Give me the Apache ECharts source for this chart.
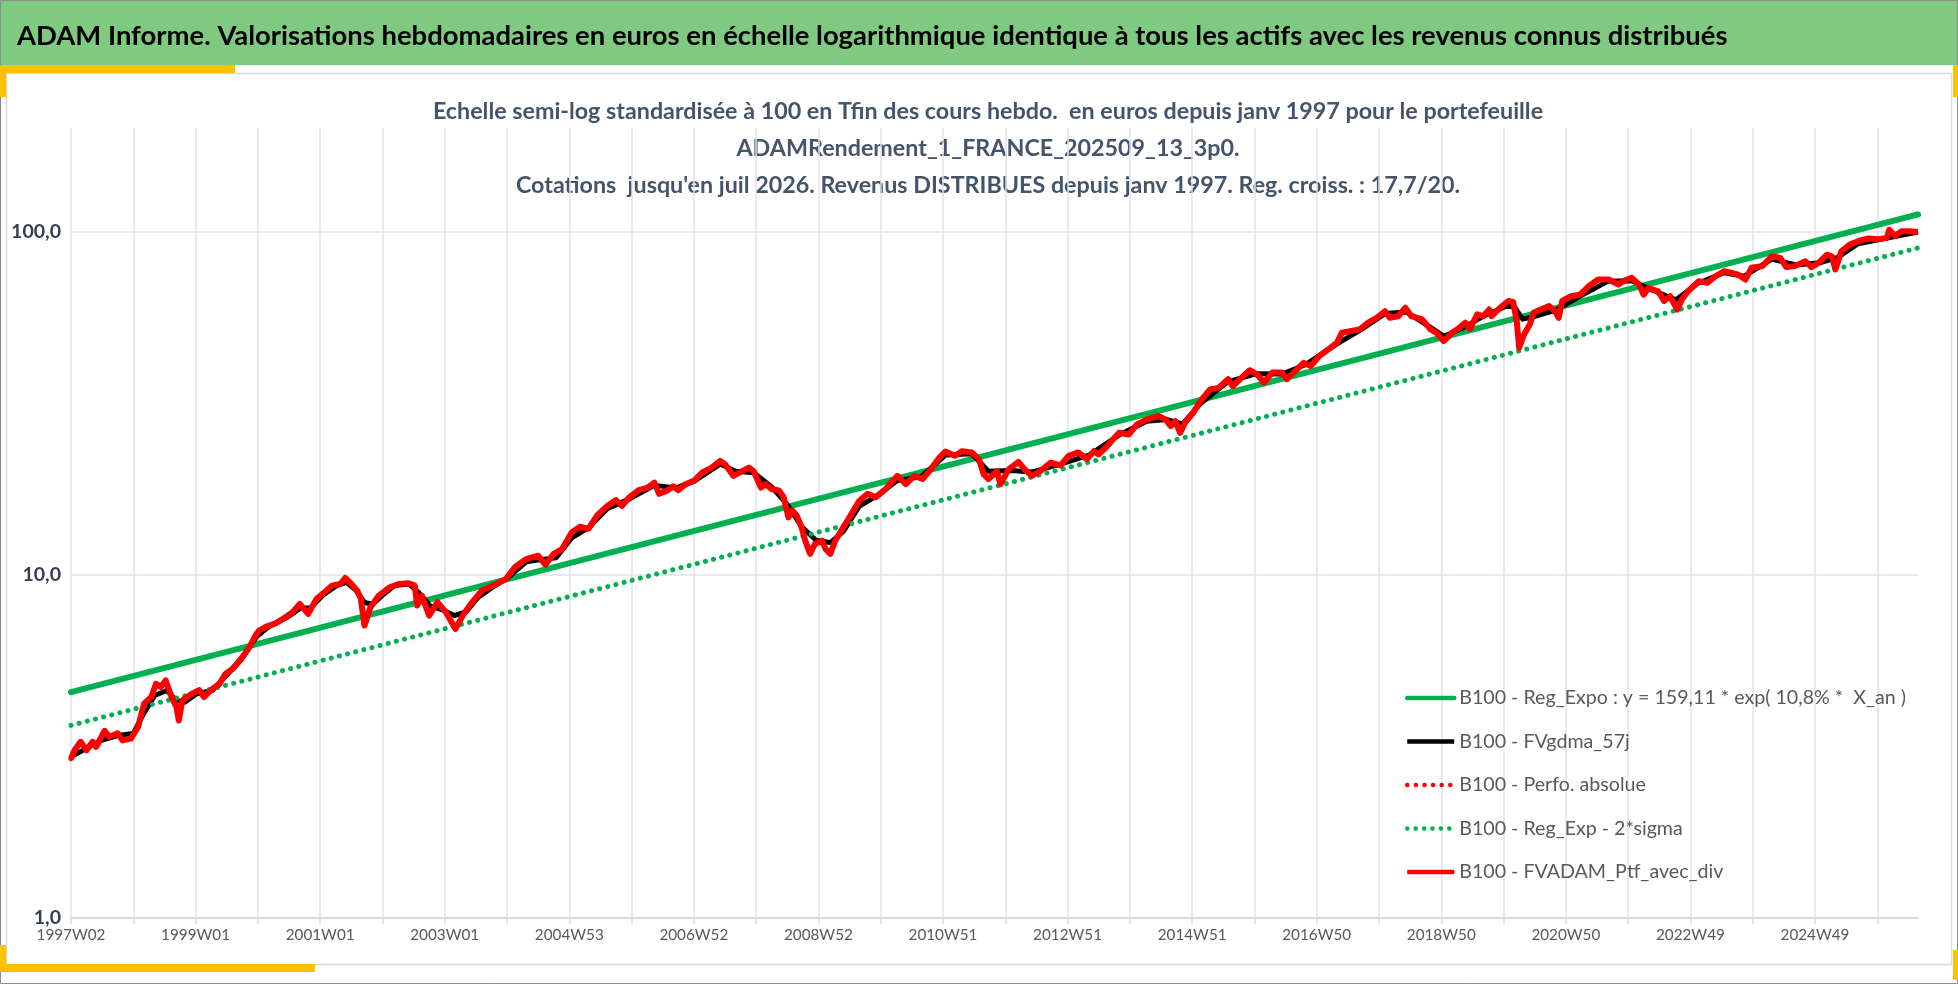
<!DOCTYPE html>
<html>
<head>
<meta charset="utf-8">
<script src="https://cdn.jsdelivr.net/npm/echarts@6/dist/echarts.min.js"></script>
<style>
  html, body { margin: 0; padding: 0; background: #fff; }
  #chart { width: 1958px; height: 984px; }
</style>
</head>
<body>
<div id="chart"></div>
<script>
// textes
const titleText = 'ADAM Informe. Valorisations hebdomadaires en euros en échelle logarithmique identique à tous les actifs avec les revenus connus distribués';
const subtitleLines = [
  'Echelle semi-log standardisée à 100 en Tfin des cours hebdo.  en euros depuis janv 1997 pour le portefeuille',
  'ADAMRendement_1_FRANCE_202509_13_3p0.',
  "Cotations  jusqu'en juil 2026. Revenus DISTRIBUES depuis janv 1997. Reg. croiss. : 17,7/20."
];
const seriesNames = [
  'B100 - Reg_Expo : y = 159,11 * exp( 10,8% *  X_an )',
  'B100 - FVgdma_57j',
  'B100 - Perfo. absolue',
  'B100 - Reg_Exp - 2*sigma',
  'B100 - FVADAM_Ptf_avec_div'
];

// axe des semaines : 1997W02 -> 2026W31
const firstMonday = Date.UTC(1997, 0, 6);
const weekCount = 1543;

// valeurs : [indice de semaine, valeur base 100]
const regExpo = [[0, 4.55], [1542, 112]];
const regExpMoins2Sigma = [[0, 3.64], [1542, 89.5]];

const ptfAvecDiv = [
  [0,2.91],[3,3.08],[8,3.26],[13,3.08],[18,3.26],[21,3.15],[28,3.51],[32,3.37],[39,3.45],[43,3.29],
  [50,3.33],[56,3.6],[61,4.21],[67,4.4],[71,4.81],[75,4.71],[79,4.92],[84,4.4],[88,4.12],[90,3.76],
  [93,4.31],[101,4.5],[107,4.61],[111,4.4],[118,4.65],[124,4.81],[129,5.14],[135,5.32],[142,5.69],[149,6.15],
  [154,6.65],[157,6.87],[163,7.06],[171,7.22],[179,7.52],[185,7.77],[191,8.22],[198,7.69],[205,8.5],[213,8.98],
  [218,9.29],[225,9.4],[229,9.78],[234,9.4],[239,8.98],[242,8.5],[245,7.11],[250,8.04],[257,8.69],[266,9.19],
  [274,9.4],[282,9.44],[287,9.29],[289,8.13],[293,8.69],[299,7.6],[306,8.32],[313,7.77],[321,6.95],[327,7.6],
  [335,8.32],[343,8.98],[352,9.29],[363,9.71],[371,10.55],[380,11.1],[390,11.36],[396,10.7],[403,11.5],[410,11.87],
  [418,13.28],[425,13.79],[432,13.6],[439,14.84],[448,15.87],[455,16.49],[460,15.87],[466,16.78],[474,17.62],[481,17.9],
  [487,18.55],[491,17.2],[498,17.6],[503,18.1],[507,17.62],[513,18.35],[520,18.77],[527,19.84],[535,20.51],[542,21.45],
  [546,20.97],[553,19.4],[560,20.0],[566,20.5],[570,20.0],[576,17.94],[580,18.35],[585,17.74],[591,17.6],[595,16.8],
  [599,14.68],[602,15.4],[606,14.84],[610,13.73],[613,12.56],[617,11.5],[621,12.28],[627,12.56],[630,11.87],[634,11.5],
  [638,12.56],[644,13.6],[649,14.51],[658,16.4],[665,17.2],[672,16.8],[680,17.74],[690,19.4],[697,18.35],[704,19.4],
  [711,19.0],[718,20.3],[725,21.93],[730,22.83],[738,22.2],[744,22.9],[752,22.7],[758,21.7],[762,19.6],[766,19.0],
  [773,20.0],[776,18.35],[783,20.3],[791,21.3],[796,20.3],[802,19.4],[809,20.0],[818,21.2],[826,20.8],[833,22.2],
  [841,22.7],[848,21.7],[854,22.9],[858,22.4],[865,23.7],[875,25.9],[883,25.6],[890,27.4],[898,28.3],[908,29.0],
  [914,28.3],[918,27.1],[922,28.0],[926,25.9],[930,27.7],[937,29.65],[943,32.05],[951,34.65],[958,35.0],[966,37.1],
  [970,35.4],[976,37.1],[984,39.4],[990,38.4],[996,36.3],[1003,38.8],[1011,38.8],[1015,37.1],[1022,39.2],[1029,41.4],
  [1035,40.5],[1042,43.3],[1050,45.4],[1057,47.4],[1061,50.65],[1068,51.2],[1076,51.8],[1083,54.2],[1090,56.0],[1097,58.5],
  [1101,56.0],[1108,56.6],[1114,59.9],[1119,56.6],[1128,55.4],[1135,51.8],[1140,50.65],[1146,47.9],[1153,50.65],[1158,52.0],
  [1164,54.2],[1168,52.0],[1174,57.3],[1179,56.6],[1184,59.2],[1186,56.6],[1193,59.9],[1200,62.7],[1204,62.3],[1207,54.8],
  [1209,45.8],[1213,50.0],[1218,53.6],[1221,57.9],[1227,59.2],[1234,60.6],[1239,58.5],[1242,56.0],[1245,62.7],[1252,64.7],
  [1260,65.4],[1267,69.2],[1275,72.4],[1284,72.4],[1292,70.0],[1296,71.6],[1303,73.2],[1309,70.0],[1313,65.4],[1317,68.4],
  [1325,66.9],[1330,62.7],[1335,64.7],[1341,59.2],[1345,63.4],[1350,66.9],[1359,71.6],[1366,70.8],[1373,74.0],[1380,76.5],
  [1387,75.6],[1392,74.8],[1398,72.4],[1403,78.3],[1412,79.2],[1420,84.6],[1427,83.7],[1432,78.7],[1439,79.2],[1448,81.8],
  [1453,78.7],[1459,80.9],[1466,85.5],[1470,84.6],[1473,77.4],[1478,87.5],[1485,91.5],[1492,93.6],[1500,95.3],[1509,94.9],
  [1516,95.7],[1518,101.1],[1523,97.0],[1528,100.0],[1535,100.0],[1542,99.6]
];
const perfoAbsolue = ptfAvecDiv;

const gdma57j = [
  [0,2.95],[13,3.12],[26,3.3],[39,3.4],[52,3.45],[60,3.9],[70,4.45],[80,4.6],[88,4.3],[95,4.25],
  [105,4.5],[118,4.6],[130,5.1],[142,5.65],[155,6.6],[165,7.05],[180,7.5],[192,8.0],[200,8.0],[210,8.7],
  [222,9.3],[230,9.5],[238,9.0],[245,8.3],[252,8.2],[260,8.7],[270,9.3],[282,9.4],[290,8.9],[300,8.1],
  [310,7.9],[320,7.6],[330,7.8],[340,8.6],[352,9.2],[365,9.8],[380,10.9],[395,11.1],[405,11.2],[418,12.8],
  [432,13.7],[448,15.6],[466,16.6],[487,18.2],[505,17.9],[520,18.7],[542,21.0],[555,20.0],[570,19.8],[585,18.0],
  [598,16.0],[610,13.8],[622,12.6],[634,12.4],[645,13.4],[658,15.8],[672,16.9],[690,18.8],[710,19.3],[730,22.3],
  [752,22.5],[766,20.0],[785,20.1],[802,19.9],[826,21.0],[850,22.3],[875,25.5],[898,28.0],[915,28.3],[928,27.5],
  [943,31.5],[966,36.5],[990,38.5],[1011,38.4],[1030,40.8],[1057,47.0],[1076,51.5],[1097,57.6],[1115,58.2],[1135,52.5],
  [1146,49.5],[1163,52.5],[1180,56.8],[1198,60.5],[1205,60.3],[1212,55.5],[1222,56.5],[1240,59.0],[1260,64.8],[1283,71.5],
  [1303,71.8],[1320,67.5],[1340,63.2],[1358,70.5],[1380,75.8],[1397,74.0],[1420,83.0],[1440,79.8],[1460,81.0],[1475,84.0],
  [1492,92.0],[1515,95.5],[1542,99.5]
];

// libellés semaine ISO
function isoWeekLabel(ms) {
  const thu = new Date(ms + 3 * 86400000);
  const y = thu.getUTCFullYear();
  const w = Math.floor((thu.getTime() - Date.UTC(y, 0, 1)) / 86400000 / 7) + 1;
  return y + 'W' + String(w).padStart(2, '0');
}
const weeks = [];
for (let k = 0; k < weekCount; k++) {
  weeks.push(isoWeekLabel(firstMonday + k * 7 * 86400000));
}

// Lato : proportions proches de Calibri ; taille ajustée à la largeur du modèle
const FONT = 'Lato, "Liberation Sans", sans-serif';
const ctx = document.createElement('canvas').getContext('2d');
function fitSize(text, weight, width) {
  ctx.font = weight + ' 100px ' + FONT;
  return 100 * width / ctx.measureText(text).width;
}
const titleSize = fitSize(titleText, 'bold', 1711);
const subSize = fitSize(subtitleLines[0], 'bold', 1111);
const legendSize = fitSize(seriesNames[0], 'normal', 447);
const xLabelSize = fitSize('1999W01', 'normal', 69);
const yLabelSize = fitSize('100,0', 'bold', 50);

const gold = '#ffc000';
const chart = echarts.init(document.getElementById('chart'));

chart.setOption({
  animation: false,
  backgroundColor: '#ffffff',
  textStyle: { fontFamily: FONT },
  graphic: [
    { type: 'rect', silent: true, shape: { x: 0, y: 0, width: 1958, height: 65 }, style: { fill: '#80c980' } },
    { type: 'rect', silent: true, shape: { x: 6.5, y: 73.5, width: 1945, height: 891 }, style: { fill: null, stroke: '#d9d9d9', lineWidth: 1.5 } },
    { type: 'rect', silent: true, shape: { x: 0.5, y: 0.5, width: 1957, height: 983 }, style: { fill: null, stroke: '#8c8c8c', lineWidth: 1 } },
    { type: 'rect', silent: true, shape: { x: 0, y: 65, width: 235, height: 8 }, style: { fill: gold } },
    { type: 'rect', silent: true, shape: { x: 0, y: 65, width: 6, height: 32 }, style: { fill: gold } },
    { type: 'rect', silent: true, shape: { x: 1953, y: 65, width: 5, height: 32 }, style: { fill: gold } },
    { type: 'rect', silent: true, shape: { x: 0, y: 964, width: 315, height: 8 }, style: { fill: gold } },
    { type: 'rect', silent: true, shape: { x: 0, y: 945, width: 6, height: 27 }, style: { fill: gold } },
    { type: 'rect', silent: true, shape: { x: 1953, y: 950, width: 5, height: 30 }, style: { fill: gold } },
    { type: 'text', silent: true, x: 17, y: 36, style: { text: titleText, fontFamily: FONT, fontWeight: 'bold', fontSize: titleSize, fill: '#000', align: 'left', verticalAlign: 'middle' } },
    { type: 'text', silent: true, x: 988, y: 111, style: { text: subtitleLines[0], fontFamily: FONT, fontWeight: 'bold', fontSize: subSize, fill: '#44546a', align: 'center', verticalAlign: 'middle' } },
    { type: 'text', silent: true, x: 988, y: 148, style: { text: subtitleLines[1], fontFamily: FONT, fontWeight: 'bold', fontSize: subSize, fill: '#44546a', align: 'center', verticalAlign: 'middle' } },
    { type: 'text', silent: true, x: 988, y: 185, style: { text: subtitleLines[2], fontFamily: FONT, fontWeight: 'bold', fontSize: subSize, fill: '#44546a', align: 'center', verticalAlign: 'middle' } }
  ],
  grid: { left: 71, right: 40, top: 128, bottom: 66, containLabel: false },
  legend: {
    orient: 'vertical',
    left: 1400,
    top: 683,
    itemWidth: 47,
    itemHeight: 20,
    itemGap: 23.5,
    itemStyle: { opacity: 0 },
    lineStyle: { width: 4.5 },
    textStyle: { fontSize: legendSize, color: '#595959', fontFamily: FONT, lineHeight: 20 },
    data: seriesNames
  },
  xAxis: {
    type: 'category',
    data: weeks,
    boundaryGap: false,
    axisLine: { lineStyle: { color: '#d9d9d9', width: 2 } },
    axisTick: { show: true, interval: 51, length: 6, lineStyle: { color: '#d9d9d9', width: 1.5 } },
    axisLabel: { interval: 103, color: '#595959', fontSize: xLabelSize, margin: 10, fontFamily: FONT },
    splitLine: { show: true, interval: 51, lineStyle: { color: '#dfe3ea', width: 1.5 } }
  },
  yAxis: {
    type: 'log',
    logBase: 10,
    min: 1,
    max: 200,
    axisLine: { show: false },
    axisTick: { show: false },
    splitLine: { show: true, showMaxLine: false, lineStyle: { color: '#dfe3ea', width: 1.5 } },
    axisLabel: {
      showMaxLabel: false,
      color: '#333f50',
      fontWeight: 'bold',
      fontSize: yLabelSize,
      fontFamily: FONT,
      margin: 10,
      formatter: function (v) {
        const l = Math.log10(v);
        if (Math.abs(l - Math.round(l)) > 1e-6) return '';
        return Math.pow(10, Math.round(l)).toFixed(1).replace('.', ',');
      }
    }
  },
  series: [
    {
      name: seriesNames[0], type: 'line', data: regExpo, symbol: 'none',
      itemStyle: { color: '#00b050' },
      lineStyle: { color: '#00b050', width: 6, cap: 'round' }
    },
    {
      name: seriesNames[1], type: 'line', data: gdma57j, symbol: 'none',
      itemStyle: { color: '#000000' },
      lineStyle: { color: '#000000', width: 5, join: 'round' }
    },
    {
      name: seriesNames[2], type: 'line', data: perfoAbsolue, symbol: 'none',
      itemStyle: { color: '#ff0000' },
      lineStyle: { color: '#ff0000', width: 5, type: [0.1, 8.5], cap: 'round' }
    },
    {
      name: seriesNames[3], type: 'line', data: regExpMoins2Sigma, symbol: 'none',
      itemStyle: { color: '#00b050' },
      lineStyle: { color: '#00b050', width: 5, type: [0.1, 8.3], cap: 'round' }
    },
    {
      name: seriesNames[4], type: 'line', data: ptfAvecDiv, symbol: 'none',
      itemStyle: { color: '#ff0000' },
      lineStyle: { color: '#ff0000', width: 6, join: 'round' }
    }
  ]
});
</script>
</body>
</html>
